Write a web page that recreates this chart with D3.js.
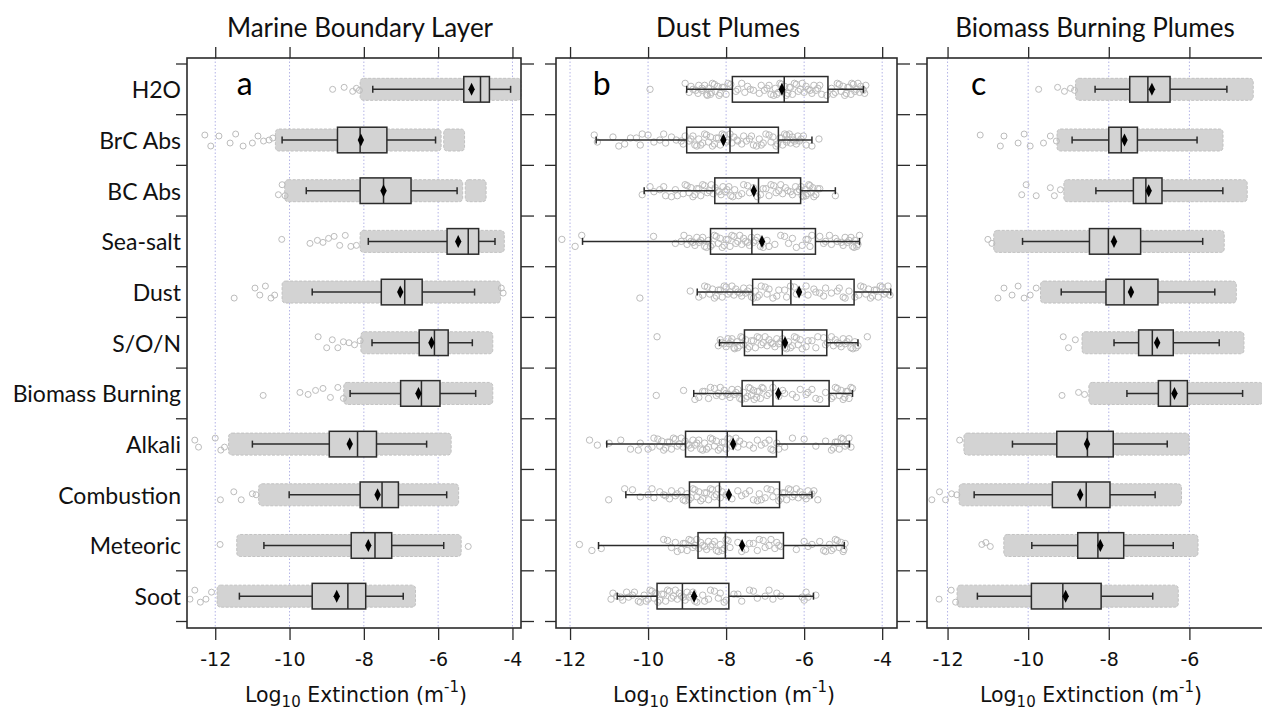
<!DOCTYPE html>
<html>
<head>
<meta charset="utf-8">
<script src="https://cdn.jsdelivr.net/npm/d3@7"></script>
<style>
  body { margin: 0; background: #fff; }
  svg { display: block; }
</style>
</head>
<body>
<svg id="chart" width="1262" height="713"></svg>
<script>
// ---------- data ----------
const categories = ["H2O", "BrC Abs", "BC Abs", "Sea-salt", "Dust", "S/O/N",
  "Biomass Burning", "Alkali", "Combustion", "Meteoric", "Soot"];
const panelTitles = ["Marine Boundary Layer", "Dust Plumes", "Biomass Burning Plumes"];
const panelLetters = ["a", "b", "c"];
const tickValues = [-12, -10, -8, -6, -4];

// Marine boundary layer: box statistics (log10 extinction)
const mblLow    = [-7.76, -10.20, -9.55, -7.88, -9.39, -7.78, -8.37, -11.00, -10.01, -10.69, -11.35];
const mblQ1     = [-5.31, -8.71, -8.10, -5.76, -7.53, -6.51, -7.01, -8.93, -8.10, -8.34, -9.39];
const mblMedian = [-4.86, -8.10, -7.47, -5.19, -6.90, -6.10, -6.45, -8.17, -7.51, -7.70, -8.43];
const mblQ3     = [-4.62, -7.38, -6.73, -4.91, -6.43, -5.73, -5.95, -7.66, -7.07, -7.25, -7.95];
const mblHigh   = [-4.05, -6.07, -5.49, -4.47, -5.02, -5.08, -4.99, -6.31, -5.77, -5.85, -6.94];
const mblMean   = [-5.10, -8.08, -7.47, -5.46, -7.02, -6.18, -6.53, -8.38, -7.63, -7.88, -8.73];
// dense point clouds (ranges) and isolated points
const mblCloud = [
  [[-8.02, -3.85]], [[-10.30, -6.00], [-5.77, -5.37]], [[-10.05, -5.42], [-5.19, -4.79]],
  [[-8.02, -4.30]], [[-10.12, -4.40]], [[-8.00, -4.61]], [[-8.46, -4.61]],
  [[-11.56, -5.73]], [[-10.75, -5.53]], [[-11.34, -5.46]], [[-11.87, -6.69]]
];
const mblOutliers = [
  [-8.84, -8.53, -8.30, -8.20, -8.12],
  [-12.28, -12.12, -11.90, -11.60, -11.45, -11.25, -11.00, -10.85, -10.70, -10.55, -10.45],
  [-10.30, -10.20, -10.12],
  [-10.21, -9.45, -9.25, -9.10, -8.95, -8.80, -8.65, -8.50, -8.35, -8.20],
  [-11.49, -10.93, -10.80, -10.65, -10.50, -10.40, -4.30, -4.25],
  [-9.23, -9.00, -8.85, -8.70, -8.55, -8.40, -8.25, -8.10],
  [-10.71, -9.72, -9.50, -9.30, -9.10, -8.90, -8.70, -8.55],
  [-12.55, -12.45, -12.00, -11.85, -11.75],
  [-11.86, -11.50, -11.30, -11.00, -10.90],
  [-11.87, -5.19],
  [-12.68, -12.55, -12.40, -12.25, -12.10]
];

// Dust plumes: box statistics
const dpLow    = [-9.01, -11.33, -10.10, -11.68, -8.74, -8.17, -8.83, -11.06, -10.57, -11.27, -10.79];
const dpQ1     = [-7.84, -9.01, -8.29, -8.40, -7.32, -7.53, -7.59, -9.04, -8.94, -8.72, -9.77];
const dpMedian = [-6.51, -7.90, -7.17, -7.34, -6.34, -6.56, -6.80, -7.97, -8.17, -8.02, -9.12];
const dpQ3     = [-5.39, -6.66, -6.09, -5.71, -4.72, -5.42, -5.36, -6.71, -6.63, -6.53, -7.93];
const dpHigh   = [-4.48, -5.80, -5.20, -4.58, -3.78, -4.62, -4.76, -4.84, -5.80, -4.97, -5.76];
const dpMean   = [-6.57, -8.07, -7.29, -7.08, -6.13, -6.49, -6.66, -7.82, -7.93, -7.59, -8.82];
// individual samples
const dpPoints = [
  [-9.95, -9.05, -8.95, -8.90, -8.85, -8.78, -8.72, -8.70, -8.62, -8.62, -8.55, -8.50, -8.48, -8.45, -8.40,
   -8.38, -8.35, -8.30, -8.28, -8.22, -8.18, -8.15, -8.10, -8.05, -8.00, -7.95, -7.88, -7.75, -7.70, -7.60,
   -7.52, -7.45, -7.38, -7.30, -7.15, -7.10, -7.02, -6.95, -6.90, -6.85, -6.78, -6.74, -6.70, -6.66, -6.62,
   -6.58, -6.55, -6.50, -6.46, -6.42, -6.38, -6.35, -6.30, -6.25, -6.20, -6.15, -6.10, -6.05, -6.00, -5.95,
   -5.90, -5.85, -5.80, -5.75, -5.70, -5.65, -5.60, -5.55, -5.42, -5.30, -5.25, -5.20, -5.15, -5.10, -5.05,
   -5.00, -4.96, -4.92, -4.88, -4.85, -4.80, -4.78, -4.74, -4.70, -4.66, -4.62, -4.58, -4.55, -4.50, -4.48,
   -4.45, -4.42],
  [-11.38, -11.30, -10.90, -10.75, -10.60, -10.45, -10.30, -10.20, -10.15, -10.00, -9.85, -9.70, -9.60,
   -9.55, -9.40, -9.28, -9.15, -9.10, -9.05, -8.95, -8.90, -8.85, -8.80, -8.75, -8.70, -8.65, -8.60, -8.55,
   -8.50, -8.45, -8.40, -8.35, -8.30, -8.25, -8.20, -8.15, -8.10, -8.05, -8.00, -7.95, -7.90, -7.85, -7.80,
   -7.72, -7.70, -7.60, -7.55, -7.48, -7.40, -7.35, -7.30, -7.22, -7.15, -7.10, -7.05, -6.98, -6.90, -6.85,
   -6.80, -6.72, -6.68, -6.62, -6.58, -6.55, -6.50, -6.45, -6.45, -6.42, -6.38, -6.35, -6.30, -6.28, -6.24,
   -6.20, -6.16, -6.12, -6.08, -6.02, -5.95, -5.80, -5.62],
  [-10.15, -9.95, -9.85, -9.70, -9.60, -9.55, -9.40, -9.30, -9.25, -9.10, -9.05, -9.00, -8.95, -8.90, -8.85,
   -8.80, -8.75, -8.70, -8.65, -8.60, -8.55, -8.48, -8.43, -8.38, -8.33, -8.28, -8.23, -8.18, -8.13, -8.08,
   -8.03, -7.98, -7.93, -7.88, -7.83, -7.78, -7.68, -7.60, -7.55, -7.45, -7.40, -7.30, -7.20, -7.12, -7.05,
   -6.98, -6.90, -6.85, -6.78, -6.72, -6.65, -6.60, -6.55, -6.48, -6.42, -6.35, -6.30, -6.22, -6.18, -6.12,
   -6.08, -6.05, -6.02, -5.98, -5.95, -5.92, -5.88, -5.85, -5.82, -5.78, -5.75, -5.70, -5.65, -5.60, -5.20],
  [-12.21, -11.87, -11.70, -9.86, -9.30, -9.15, -9.08, -9.00, -8.95, -8.90, -8.85, -8.80, -8.75, -8.70,
   -8.65, -8.60, -8.55, -8.50, -8.45, -8.40, -8.35, -8.30, -8.25, -8.20, -8.15, -8.10, -8.05, -8.00, -7.95,
   -7.90, -7.85, -7.80, -7.75, -7.70, -7.65, -7.60, -7.55, -7.50, -7.45, -7.40, -7.35, -7.30, -7.25, -7.20,
   -7.12, -7.05, -6.95, -6.90, -6.75, -6.60, -6.50, -6.40, -6.30, -6.20, -6.05, -5.95, -5.90, -5.85, -5.80,
   -5.60, -5.50, -5.45, -5.35, -5.30, -5.20, -5.15, -5.05, -5.00, -4.95, -4.90, -4.85, -4.80, -4.76, -4.72,
   -4.70, -4.65, -4.62, -4.58],
  [-10.21, -8.92, -8.70, -8.60, -8.55, -8.48, -8.42, -8.35, -8.30, -8.25, -8.20, -8.15, -8.10, -8.05, -8.00,
   -7.95, -7.90, -7.85, -7.80, -7.75, -7.70, -7.65, -7.60, -7.55, -7.50, -7.45, -7.40, -7.35, -7.30, -7.25,
   -7.20, -7.15, -7.10, -7.00, -6.95, -6.90, -6.80, -6.70, -6.65, -6.50, -6.45, -6.35, -6.25, -6.20, -6.05,
   -5.95, -5.90, -5.75, -5.70, -5.60, -5.50, -5.45, -5.30, -5.15, -5.10, -5.00, -4.95, -4.85, -4.70, -4.60,
   -4.55, -4.48, -4.42, -4.35, -4.30, -4.25, -4.20, -4.15, -4.10, -4.05, -4.00, -3.95, -3.90, -3.85, -3.80],
  [-9.77, -8.20, -8.15, -8.10, -8.05, -8.00, -7.95, -7.92, -7.88, -7.85, -7.80, -7.78, -7.72, -7.70, -7.65,
   -7.62, -7.58, -7.55, -7.50, -7.45, -7.40, -7.35, -7.30, -7.25, -7.20, -7.15, -7.10, -7.05, -7.00, -6.95,
   -6.90, -6.85, -6.80, -6.75, -6.70, -6.65, -6.60, -6.55, -6.50, -6.45, -6.40, -6.35, -6.30, -6.25, -6.20,
   -6.15, -6.10, -6.05, -5.95, -5.90, -5.80, -5.70, -5.65, -5.50, -5.45, -5.40, -5.30, -5.25, -5.20, -5.15,
   -5.10, -5.05, -5.00, -4.95, -4.90, -4.85, -4.80, -4.75, -4.70, -4.67, -4.62, -4.38],
  [-9.79, -9.09, -8.80, -8.70, -8.60, -8.55, -8.45, -8.40, -8.30, -8.25, -8.20, -8.15, -8.10, -8.05, -8.00,
   -7.95, -7.90, -7.85, -7.80, -7.75, -7.70, -7.65, -7.60, -7.55, -7.50, -7.45, -7.42, -7.38, -7.35, -7.30,
   -7.28, -7.22, -7.20, -7.15, -7.12, -7.08, -7.05, -6.95, -6.90, -6.80, -6.65, -6.55, -6.50, -6.30, -6.20,
   -6.10, -5.95, -5.90, -5.80, -5.70, -5.60, -5.45, -5.30, -5.25, -5.20, -5.15, -5.10, -5.05, -5.00, -4.96,
   -4.92, -4.88, -4.85, -4.80, -4.76],
  [-11.50, -11.30, -11.00, -10.70, -10.45, -10.25, -10.20, -10.00, -9.90, -9.85, -9.75, -9.70, -9.65, -9.60,
   -9.55, -9.50, -9.45, -9.40, -9.35, -9.30, -9.25, -9.20, -9.15, -9.10, -9.05, -9.00, -8.95, -8.90, -8.85,
   -8.80, -8.75, -8.70, -8.65, -8.60, -8.55, -8.50, -8.45, -8.40, -8.35, -8.30, -8.25, -8.20, -8.15, -8.10,
   -8.05, -8.00, -7.95, -7.90, -7.85, -7.80, -7.75, -7.70, -7.65, -7.55, -7.40, -7.30, -7.20, -7.10, -7.00,
   -6.90, -6.85, -6.80, -6.70, -6.65, -6.50, -6.30, -6.00, -5.70, -5.45, -5.30, -5.25, -5.20, -5.15, -5.10,
   -5.05, -5.00, -4.95, -4.90, -4.85, -4.80],
  [-11.01, -10.60, -10.40, -10.20, -10.00, -9.90, -9.85, -9.70, -9.60, -9.55, -9.45, -9.40, -9.30, -9.25,
   -9.15, -9.10, -9.05, -9.00, -8.95, -8.90, -8.85, -8.80, -8.75, -8.70, -8.65, -8.60, -8.55, -8.50, -8.45,
   -8.40, -8.35, -8.30, -8.25, -8.20, -8.15, -8.10, -8.00, -7.95, -7.85, -7.70, -7.60, -7.50, -7.40, -7.30,
   -7.20, -7.15, -7.10, -7.00, -6.95, -6.85, -6.80, -6.70, -6.65, -6.60, -6.55, -6.50, -6.45, -6.40, -6.35,
   -6.30, -6.25, -6.20, -6.15, -6.10, -6.05, -6.00, -5.95, -5.90, -5.85, -5.80, -5.75, -5.65],
  [-11.76, -11.44, -11.20, -9.60, -9.50, -9.40, -9.30, -9.25, -9.15, -9.10, -9.05, -9.00, -8.95, -8.90,
   -8.85, -8.80, -8.75, -8.70, -8.65, -8.60, -8.55, -8.50, -8.45, -8.40, -8.35, -8.30, -8.25, -8.20, -8.15,
   -8.10, -8.05, -8.00, -7.95, -7.90, -7.70, -7.60, -7.50, -7.40, -7.30, -7.20, -7.15, -7.05, -7.00, -6.90,
   -6.85, -6.75, -6.70, -6.65, -6.60, -6.20, -6.00, -5.90, -5.80, -5.60, -5.50, -5.45, -5.35, -5.30, -5.25,
   -5.20, -5.15, -5.10, -5.05, -5.00, -4.98, -4.95],
  [-10.95, -10.90, -10.80, -10.70, -10.65, -10.55, -10.50, -10.40, -10.35, -10.25, -10.20, -10.10, -10.05,
   -10.00, -9.95, -9.90, -9.85, -9.80, -9.75, -9.70, -9.65, -9.60, -9.55, -9.50, -9.45, -9.40, -9.35, -9.30,
   -9.25, -9.20, -9.15, -9.10, -9.05, -9.00, -8.95, -8.90, -8.85, -8.80, -8.75, -8.60, -8.55, -8.45, -8.40,
   -8.30, -8.20, -8.15, -8.05, -8.00, -7.80, -7.70, -7.60, -7.40, -7.30, -7.20, -7.00, -6.90, -6.80, -6.70,
   -6.60, -6.05, -6.00, -5.95, -5.90, -5.70]
];

// Biomass burning plumes: box statistics
const bbLow    = [-8.34, -8.91, -8.32, -10.14, -9.18, -7.87, -7.55, -10.39, -11.34, -9.91, -11.26];
const bbQ1     = [-7.48, -8.00, -7.39, -8.48, -8.07, -7.26, -6.77, -9.29, -9.40, -8.77, -9.92];
const bbMedian = [-7.03, -7.69, -7.08, -8.01, -7.62, -6.92, -6.47, -8.53, -8.56, -8.27, -9.14];
const bbQ3     = [-6.48, -7.29, -6.68, -7.21, -6.78, -6.40, -6.05, -7.89, -7.97, -7.63, -8.19];
const bbHigh   = [-5.07, -5.81, -5.17, -5.67, -5.37, -5.26, -4.68, -6.55, -6.85, -6.40, -6.91];
const bbMean   = [-6.93, -7.61, -7.01, -7.87, -7.45, -6.80, -6.37, -8.54, -8.71, -8.21, -9.07];
const bbCloud = [
  [[-8.75, -4.49]], [[-9.21, -5.24]], [[-9.04, -4.64]], [[-10.78, -5.21]], [[-9.62, -4.91]],
  [[-8.59, -4.72]], [[-8.42, -4.25]], [[-11.52, -6.08]], [[-11.64, -6.27]], [[-10.53, -5.86]],
  [[-11.69, -6.35]]
];
const bbOutliers = [
  [-9.74, -9.27, -9.10, -8.95, -8.85],
  [-11.19, -10.69, -10.60, -10.25, -10.10, -9.95, -9.62, -9.45, -9.30],
  [-10.16, -10.05, -9.80, -9.45, -9.35, -9.20],
  [-11.00, -10.90],
  [-10.75, -10.60, -10.40, -10.25, -10.10, -9.95, -9.80],
  [-9.13, -9.00, -8.83],
  [-9.16, -8.75, -8.60],
  [-11.70],
  [-12.39, -12.20, -12.05, -11.90, -11.77],
  [-11.15, -10.94, -11.05],
  [-12.21, -11.91, -11.80]
];

// ---------- layout ----------
const frameTop = 58, frameBottom = 628;
const bandTop = 64, bandBottom = 621.5;
const panels = [
  { x0: 187, x1: 521, domain: [-12.76, -3.77], dense: true, titleX: 360,
    low: mblLow, q1: mblQ1, median: mblMedian, q3: mblQ3, high: mblHigh, mean: mblMean,
    cloud: mblCloud, outliers: mblOutliers },
  { x0: 556, x1: 897, domain: [-12.36, -3.62], dense: false, titleX: 728,
    low: dpLow, q1: dpQ1, median: dpMedian, q3: dpQ3, high: dpHigh, mean: dpMean,
    points: dpPoints },
  { x0: 927, x1: 1268, domain: [-12.51, -4.05], dense: true, titleX: 1095,
    low: bbLow, q1: bbQ1, median: bbMedian, q3: bbQ3, high: bbHigh, mean: bbMean,
    cloud: bbCloud, outliers: bbOutliers }
];
// vertical spread of samples around each category line
const jitter = [0, -5, 4, -2, 6, -6, 2, -4, 5, -1, 3, -3, 1, -6, 5, -3, 6, -1, -5, 3, 0, 4, -4, 2, -6, 1, -2, 5];

const svg = d3.select("#chart");
const y = d3.scaleBand().domain(categories).range([bandTop, bandBottom]).padding(0);
const bandEdges = categories.map(c => y(c)).concat([bandBottom]);
const cy = c => y(c) + y.bandwidth() / 2;

const ink = "#2b2b2b";
const pointStroke = "#bcbcbc";
const cloudFill = "#d3d3d3";
const boxHalf = 12.8, capHalf = 3.5;
const sansLabel = "Lato, 'Open Sans', sans-serif";
const sansAxis = "'DejaVu Sans', sans-serif";

// category labels
svg.append("g").selectAll("text").data(categories).join("text")
  .attr("x", 181).attr("y", d => cy(d))
  .attr("text-anchor", "end").attr("dominant-baseline", "central")
  .style("font-family", sansLabel).style("font-size", "23px")
  .attr("fill", "#111").text(d => d);

panels.forEach((p, pi) => {
  const x = d3.scaleLinear().domain(p.domain).range([p.x0, p.x1]);
  const g = svg.append("g");
  const ticks = tickValues.filter(t => t >= p.domain[0] && t <= p.domain[1]);

  // dotted grid
  g.append("g").selectAll("line").data(ticks).join("line")
    .attr("x1", d => x(d)).attr("x2", d => x(d))
    .attr("y1", frameTop).attr("y2", frameBottom)
    .attr("stroke", "#b4b4e6").attr("stroke-width", 1).attr("stroke-dasharray", "1.5,2");

  // samples
  if (p.dense) {
    categories.forEach((c, i) => {
      g.append("g").selectAll("rect").data(p.cloud[i]).join("rect")
        .attr("x", d => x(d[0]) - 3).attr("width", d => x(d[1]) - x(d[0]) + 6)
        .attr("y", cy(c) - 11).attr("height", 22).attr("rx", 3.5)
        .attr("fill", cloudFill).attr("stroke", "#c2c2c2").attr("stroke-width", 1)
        .attr("stroke-dasharray", "3,1.5");
      g.append("g").selectAll("circle").data(p.outliers[i]).join("circle")
        .attr("cx", d => x(d)).attr("cy", (d, k) => cy(c) + jitter[(k * 3 + i) % jitter.length])
        .attr("r", 3).attr("fill", "none").attr("stroke", pointStroke).attr("stroke-width", 1);
    });
  } else {
    categories.forEach((c, i) => {
      g.append("g").selectAll("circle").data(p.points[i]).join("circle")
        .attr("cx", d => x(d)).attr("cy", (d, k) => cy(c) + jitter[(k * 5 + i) % jitter.length])
        .attr("r", 3.2).attr("fill", "none").attr("stroke", pointStroke).attr("stroke-width", 1);
    });
  }

  // whiskers, boxes, medians, means
  categories.forEach((c, i) => {
    const yc = cy(c);
    const bg = g.append("g").attr("stroke", ink).attr("stroke-width", 1.5);
    bg.append("line").attr("x1", x(p.low[i])).attr("x2", x(p.q1[i])).attr("y1", yc).attr("y2", yc);
    bg.append("line").attr("x1", x(p.q3[i])).attr("x2", x(p.high[i])).attr("y1", yc).attr("y2", yc);
    [p.low[i], p.high[i]].forEach(v => {
      bg.append("line").attr("x1", x(v)).attr("x2", x(v)).attr("y1", yc - capHalf).attr("y2", yc + capHalf);
    });
    bg.append("rect").attr("x", x(p.q1[i])).attr("width", x(p.q3[i]) - x(p.q1[i]))
      .attr("y", yc - boxHalf).attr("height", boxHalf * 2)
      .attr("fill", p.dense ? cloudFill : "none");
    bg.append("line").attr("x1", x(p.median[i])).attr("x2", x(p.median[i]))
      .attr("y1", yc - boxHalf).attr("y2", yc + boxHalf);
    const mx = x(p.mean[i]);
    g.append("path")
      .attr("d", `M${mx},${yc - 6.5}L${mx + 3.2},${yc}L${mx},${yc + 6.5}L${mx - 3.2},${yc}Z`)
      .attr("fill", "#000");
  });

  // frame
  g.append("rect").attr("x", p.x0).attr("y", frameTop)
    .attr("width", p.x1 - p.x0).attr("height", frameBottom - frameTop)
    .attr("fill", "none").attr("stroke", ink).attr("stroke-width", 1.6);

  // top ticks
  const top = g.append("g").attr("transform", `translate(0,${frameTop})`)
    .call(d3.axisTop(x).tickValues(ticks).tickSize(11).tickFormat(""));
  top.select(".domain").remove();
  top.selectAll("line").attr("stroke", ink).attr("stroke-width", 1.3);

  // bottom axis
  const bottom = g.append("g").attr("transform", `translate(0,${frameBottom})`)
    .call(d3.axisBottom(x).tickValues(ticks).tickSize(12).tickPadding(13).tickFormat(d3.format("d")));
  bottom.select(".domain").remove();
  bottom.selectAll("line").attr("stroke", ink).attr("stroke-width", 1.3);
  bottom.selectAll("text").attr("fill", "#111")
    .style("font-family", sansAxis).style("font-size", "19px")
    .text(d => d < 0 ? "-" + Math.abs(d) : d);

  // category-boundary ticks on both sides
  const side = g.append("g").attr("stroke", ink).attr("stroke-width", 1.3);
  side.selectAll("line.l").data(bandEdges).join("line").attr("class", "l")
    .attr("x1", p.x0 - 11).attr("x2", p.x0).attr("y1", d => d).attr("y2", d => d);
  side.selectAll("line.r").data(bandEdges).join("line").attr("class", "r")
    .attr("x1", p.x1).attr("x2", p.x1 + 13).attr("y1", d => d).attr("y2", d => d);

  // panel title
  svg.append("text").attr("x", p.titleX).attr("y", 37)
    .attr("text-anchor", "middle")
    .style("font-family", sansLabel).style("font-size", "26px")
    .attr("fill", "#111").text(panelTitles[pi]);

  // panel letter
  svg.append("text").attr("x", x(-11.42)).attr("y", 95)
    .style("font-family", sansLabel).style("font-size", "32px")
    .attr("fill", "#000").text(panelLetters[pi]);

  // axis title
  const at = svg.append("text").attr("x", p.titleX - 4).attr("y", 702)
    .attr("text-anchor", "middle")
    .style("font-family", sansAxis).style("font-size", "20.5px").attr("fill", "#111");
  at.append("tspan").text("Log");
  at.append("tspan").attr("dy", 5).style("font-size", "15px").text("10");
  at.append("tspan").attr("dy", -5).text(" Extinction (m");
  at.append("tspan").attr("dy", -10).style("font-size", "15px").text("-1");
  at.append("tspan").attr("dy", 10).text(")");
});
</script>
</body>
</html>
